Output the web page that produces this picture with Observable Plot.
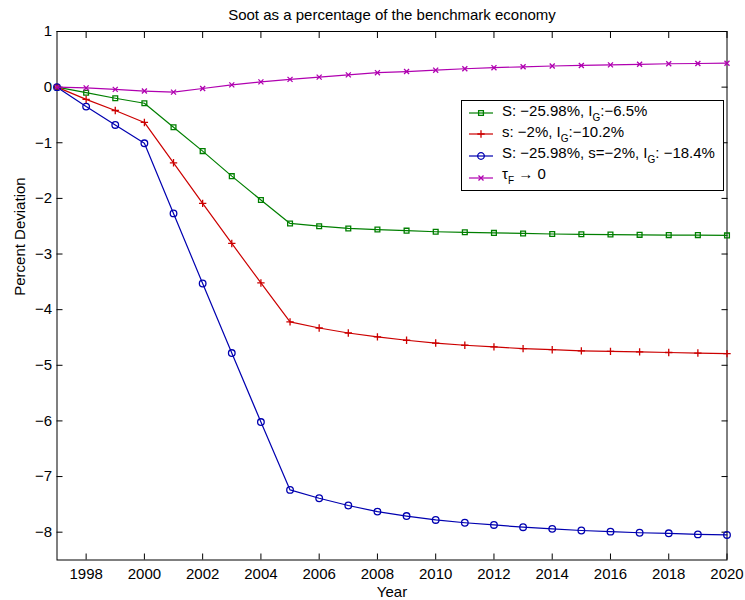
<!DOCTYPE html>
<html>
<head>
<meta charset="utf-8">
<script src="https://cdn.jsdelivr.net/npm/d3@7"></script>
<script src="https://cdn.jsdelivr.net/npm/@observablehq/plot@0.6"></script>
<style>
  body { margin: 0; background: #fff; }
  #chart { position: relative; width: 745px; height: 600px; font-family: "Liberation Sans", Arial, Helvetica, sans-serif; }
  #legend { position: absolute; left: 461px; top: 100px; width: 263px; height: 91px; box-sizing: border-box;
            border: 1px solid #000; background: #fff; font-size: 15px; color: #000; }
  #legend .swatch { position: absolute; left: 7px; }
  #legend .label { position: absolute; left: 40px; line-height: 15px; white-space: nowrap; }
  #legend sub { font-size: 10px; vertical-align: baseline; position: relative; top: 5px; }
</style>
</head>
<body>
<div id="chart"></div>
<script>
// Years simulated
const years = [1997, 1998, 1999, 2000, 2001, 2002, 2003, 2004, 2005, 2006, 2007, 2008,
               2009, 2010, 2011, 2012, 2013, 2014, 2015, 2016, 2017, 2018, 2019, 2020];

// Soot, percent deviation from the benchmark economy
const sootSubsidyCut = [0, -0.10, -0.20, -0.29, -0.72, -1.15, -1.60, -2.03, -2.45, -2.50, -2.54, -2.56,
                        -2.58, -2.60, -2.61, -2.62, -2.63, -2.64, -2.645, -2.65, -2.655, -2.66, -2.66, -2.665];
const sootSavingsCut = [0, -0.22, -0.42, -0.635, -1.36, -2.09, -2.81, -3.52, -4.22, -4.33, -4.42, -4.49,
                        -4.55, -4.60, -4.64, -4.67, -4.70, -4.72, -4.74, -4.75, -4.76, -4.77, -4.78, -4.79];
const sootCombined    = [0, -0.35, -0.68, -1.01, -2.27, -3.53, -4.78, -6.02, -7.24, -7.39, -7.52, -7.63,
                        -7.71, -7.78, -7.83, -7.87, -7.91, -7.94, -7.97, -7.99, -8.01, -8.02, -8.04, -8.05];
const sootTaxToZero   = [0, -0.014, -0.04, -0.07, -0.09, -0.025, 0.04, 0.095, 0.14, 0.18, 0.22, 0.26,
                        0.28, 0.305, 0.33, 0.35, 0.365, 0.38, 0.39, 0.40, 0.41, 0.42, 0.425, 0.43];

// Axis ticks
const xTicks = [1998, 2000, 2002, 2004, 2006, 2008, 2010, 2012, 2014, 2016, 2018, 2020];
const yTicks = [1, 0, -1, -2, -3, -4, -5, -6, -7, -8];

// Legend entries (HTML, with subscripts)
const legendLabels = [
  "S: \u221225.98%, I<sub>G</sub>:\u22126.5%",
  "s: \u22122%, I<sub>G</sub>:\u221210.2%",
  "S: \u221225.98%, s=\u22122%, I<sub>G</sub>: \u221218.4%",
  "\u03c4<sub>F</sub> \u2192 0"
];

const series = [
  {values: sootSubsidyCut, color: "#007f00", symbol: "square", r: 2.7},
  {values: sootSavingsCut, color: "#cc0000", symbol: "plus",   r: 2.5},
  {values: sootCombined,   color: "#0000b0", symbol: "circle", r: 3.3},
  {values: sootTaxToZero,  color: "#b000b0", symbol: "times",  r: 2.4}
];

const font = "'Liberation Sans', Arial, Helvetica, sans-serif";

const marks = [];
for (const s of series) {
  const data = years.map((year, i) => ({year, value: s.values[i]}));
  marks.push(Plot.line(data, {x: "year", y: "value", stroke: s.color, strokeWidth: 1.2}));
  marks.push(Plot.dot(data, {x: "year", y: "value", symbol: s.symbol, r: s.r, stroke: s.color,
                             fill: "none", strokeWidth: 1.3}));
}

const chart = Plot.plot({
  width: 745,
  height: 600,
  marginLeft: 56.5,
  marginRight: 18.5,
  marginTop: 31,
  marginBottom: 40.5,
  style: {fontFamily: font, fontSize: "15px", color: "#000", background: "#fff"},
  x: {domain: [1997, 2020]},
  y: {domain: [-8.5, 1]},
  marks: [
    Plot.axisX(xTicks, {anchor: "bottom", tickSize: -6, tickPadding: 14, tickFormat: d => String(d), label: null}),
    Plot.axisX(xTicks, {anchor: "top", tickSize: -6, tickFormat: () => "", label: null}),
    Plot.axisY(yTicks, {anchor: "left", tickSize: -6, tickPadding: 11, tickFormat: d3.format("d"), label: null}),
    Plot.axisY(yTicks, {anchor: "right", tickSize: -6, tickFormat: () => "", label: null}),
    Plot.frame({stroke: "#000", strokeWidth: 1}),
    ...marks,
    Plot.text(["Soot as a percentage of the benchmark economy"],
              {frameAnchor: "top", lineAnchor: "middle", dy: -16.8, fontSize: 15}),
    Plot.text(["Year"], {frameAnchor: "bottom", lineAnchor: "middle", dy: 31.7, fontSize: 15}),
    Plot.text(["Percent Deviation"],
              {frameAnchor: "left", lineAnchor: "middle", dx: -36.4, rotate: -90, fontSize: 15})
  ]
});

const container = document.getElementById("chart");
container.appendChild(chart);

// Legend box
const legend = document.createElement("div");
legend.id = "legend";
const lineY = [12, 32.5, 55, 76.5];
const baseY = [15, 36, 57, 78];
series.forEach((s, i) => {
  const sw = d3.create("svg").attr("class", "swatch").attr("width", 26).attr("height", 12)
    .style("top", (lineY[i] - 6) + "px");
  sw.append("line").attr("x1", 0).attr("x2", 24).attr("y1", 6).attr("y2", 6)
    .attr("stroke", s.color).attr("stroke-width", 1.2);
  const sym = {square: d3.symbolSquare, plus: d3.symbolPlus, circle: d3.symbolCircle, times: d3.symbolTimes}[s.symbol];
  sw.append("path").attr("transform", "translate(12,6)")
    .attr("d", d3.symbol(sym, Math.PI * s.r * s.r)())
    .attr("fill", "none").attr("stroke", s.color).attr("stroke-width", 1.3);
  legend.appendChild(sw.node());
  const lab = document.createElement("div");
  lab.className = "label";
  lab.style.top = (baseY[i] - 12.7) + "px";
  lab.innerHTML = legendLabels[i];
  legend.appendChild(lab);
});
container.appendChild(legend);
</script>
</body>
</html>
